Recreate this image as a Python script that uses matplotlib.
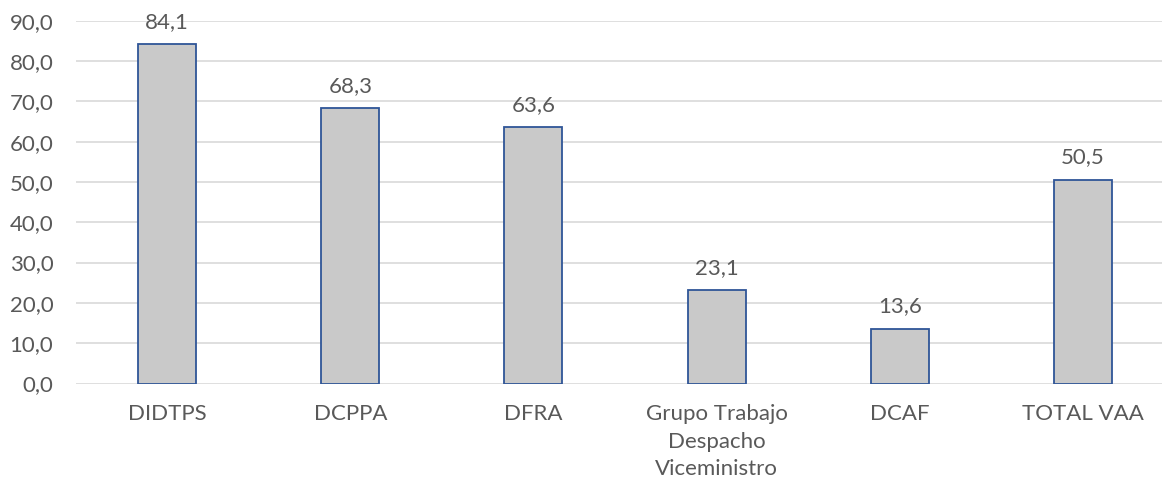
import matplotlib.pyplot as plt
import numpy as np

categories = ['DIDTPS', 'DCPPA', 'DFRA', 'Grupo Trabajo\nDespacho\nViceministro', 'DCAF', 'TOTAL VAA']
values = [84.1, 68.3, 63.6, 23.1, 13.6, 50.5]
yticks = [0, 10, 20, 30, 40, 50, 60, 70, 80, 90]

plt.rcParams['font.family'] = ['Lato', 'DejaVu Sans']
text_color = '#595959'

fig = plt.figure(figsize=(11.62, 4.84), dpi=100)
# plot area: x 75.5..1174.5 px, y 20.7..383.5 px (from top)
W, H = 1162, 484
ax = fig.add_axes([75.5 / W, (H - 383.5) / H, (1174.5 - 75.5) / W, (383.5 - 20.7) / H])

x = np.arange(len(categories))
ax.bar(x, values, width=0.317, color='#C9C9C9', edgecolor='#2F5597', linewidth=1.3, zorder=3)

for xi, v in zip(x, values):
    ax.annotate(f'{v:.1f}'.replace('.', ','), (xi, v), xytext=(0, 9), textcoords='offset points',
                ha='center', va='bottom', fontsize=16, color=text_color)

ax.set_xlim(-0.5, len(categories) - 0.5)
ax.set_ylim(0, 90)
ax.set_yticks(yticks)
ax.set_yticklabels([f'{t:.1f}'.replace('.', ',') for t in yticks], fontsize=16, color=text_color)
ax.set_xticks(x)
ax.set_xticklabels(categories, fontsize=16, color=text_color, linespacing=1.45)
ax.tick_params(axis='both', length=0)
ax.tick_params(axis='y', pad=16)
ax.tick_params(axis='x', pad=15)

ax.grid(axis='y', color='#D9D9D9', linewidth=1.2, zorder=0)
for s in ax.spines.values():
    s.set_visible(False)

fig.savefig('out.png', dpi=100)
